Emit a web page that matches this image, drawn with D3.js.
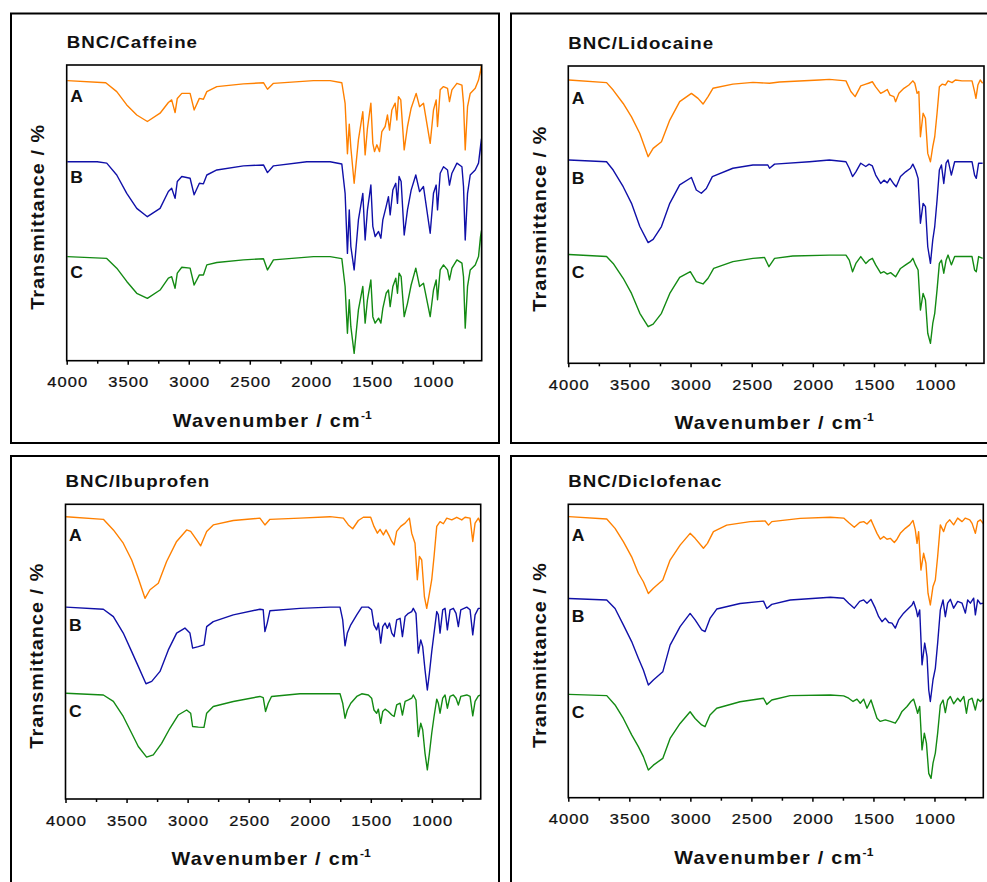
<!DOCTYPE html>
<html><head><meta charset="utf-8">
<script src="https://cdn.jsdelivr.net/npm/d3@7"></script>
<style>body{margin:0;background:#fff} svg{display:block}</style>
</head><body>
<svg id="c" width="987" height="882"></svg>
<script>
// ---- data (wavenumber cm-1, transmittance a.u. with offsets) ----
const caffeineA = [[3995,94.7],[3680,94.0],[3590,91.0],[3508,86.5],[3426,83.1],[3339,80.9],[3235,83.7],[3167,87.3],[3140,88.2],[3112,83.9],[3094,88.7],[3057,90.4],[2989,90.4],[2956,84.8],[2913,88.7],[2880,88.4],[2852,91.0],[2770,92.7],[2552,93.6],[2388,94.0],[2355,91.8],[2306,93.8],[1978,94.7],[1842,94.7],[1746,94.0],[1719,87.0],[1700,70.0],[1685,80.0],[1672,72.0],[1645,60.0],[1610,74.7],[1574,84.2],[1555,69.6],[1536,78.6],[1508,87.1],[1492,73.5],[1478,70.7],[1459,73.0],[1437,70.7],[1418,77.5],[1391,79.2],[1372,83.1],[1355,78.0],[1336,84.8],[1309,87.1],[1295,81.4],[1282,89.3],[1263,88.2],[1235,71.3],[1208,79.2],[1178,85.4],[1137,90.4],[1109,85.9],[1077,87.1],[1022,73.5],[995,84.8],[973,88.2],[962,79.2],[940,91.6],[913,92.7],[880,92.1],[864,87.6],[844,91.6],[803,93.8],[762,93.2],[749,87.1],[735,71.3],[716,85.9],[694,90.4],[653,92.1],[626,94.9],[610,98.0],[602,100],[600,90.0]];
const caffeineB = [[3995,67.3],[3750,67.3],[3672,66.8],[3590,62.8],[3508,56.6],[3426,51.5],[3339,48.7],[3235,51.5],[3167,57.2],[3140,58.3],[3112,54.9],[3094,60.6],[3057,62.3],[2989,61.7],[2956,56.1],[2913,60.0],[2880,59.8],[2852,62.8],[2770,64.5],[2552,65.9],[2388,66.2],[2355,63.6],[2306,65.9],[2033,67.3],[1842,67.3],[1746,66.5],[1719,56.6],[1700,36.3],[1685,51.0],[1672,38.6],[1645,30.7],[1610,47.6],[1574,56.6],[1555,40.8],[1536,51.0],[1508,59.4],[1492,45.4],[1473,42.0],[1445,43.7],[1426,41.4],[1410,47.6],[1383,52.1],[1364,55.5],[1350,49.3],[1328,57.7],[1304,60.0],[1290,53.2],[1277,62.3],[1260,60.6],[1235,42.5],[1208,51.0],[1178,57.7],[1140,62.8],[1109,57.2],[1077,58.9],[1022,43.1],[995,56.6],[973,59.4],[962,51.0],[940,63.4],[913,65.6],[880,64.5],[864,59.4],[844,63.4],[803,66.8],[762,65.6],[749,58.9],[735,40.8],[716,56.6],[694,62.8],[653,64.5],[626,66.8],[610,72.4],[602,75.0],[600,62.3]];
const caffeineC = [[3995,35.2],[3672,34.6],[3590,31.3],[3508,26.8],[3426,22.8],[3339,21.1],[3235,23.9],[3167,27.9],[3140,28.4],[3112,24.5],[3094,29.6],[3057,31.6],[2989,31.3],[2956,25.6],[2913,29.0],[2880,29.0],[2852,32.4],[2770,33.2],[2552,34.1],[2388,34.5],[2355,30.7],[2306,34.1],[1978,35.2],[1842,35.2],[1746,34.5],[1719,25.1],[1700,9.3],[1685,20.6],[1672,11.5],[1645,2.5],[1610,17.2],[1574,25.1],[1555,12.7],[1536,20.6],[1508,27.3],[1492,14.9],[1473,12.7],[1445,14.4],[1426,12.7],[1410,17.7],[1383,22.8],[1364,23.9],[1350,18.3],[1328,25.1],[1304,27.9],[1290,22.8],[1277,29.6],[1260,28.4],[1235,14.9],[1208,19.4],[1178,25.6],[1140,31.3],[1109,25.1],[1077,26.2],[1022,14.9],[995,23.9],[973,27.3],[962,20.6],[940,30.7],[913,32.4],[880,30.7],[864,27.3],[844,31.3],[803,34.1],[762,33.0],[749,28.4],[735,11.0],[716,25.1],[694,30.7],[653,32.4],[626,35.2],[610,41.9],[602,44.0],[600,29.6]];

const lidocaineA = [[3995,95.3],[3687,94.4],[3633,91.9],[3551,87.4],[3483,82.9],[3415,77.3],[3347,69.5],[3306,72.3],[3238,74.5],[3170,81.8],[3089,88.0],[2993,90.8],[2939,89.1],[2898,87.2],[2857,89.7],[2817,92.5],[2654,93.9],[2490,94.5],[2354,94.2],[2273,94.6],[1947,95.3],[1865,95.5],[1729,95.0],[1689,91.4],[1654,89.7],[1608,93.3],[1567,93.9],[1545,94.2],[1513,94.7],[1486,93.0],[1445,90.8],[1418,91.4],[1391,92.1],[1369,90.2],[1337,89.7],[1323,88.0],[1296,90.8],[1255,92.5],[1214,93.6],[1182,95.0],[1166,94.2],[1147,90.8],[1133,91.4],[1120,76.2],[1098,84.1],[1079,82.4],[1060,70.6],[1038,67.8],[1019,72.9],[1003,76.2],[984,84.1],[965,93.0],[943,93.9],[916,93.6],[894,95.0],[861,94.4],[834,95.3],[780,95.0],[698,95.0],[677,91.4],[666,89.1],[650,93.6],[631,95.3],[611,94.2]];
const lidocaineB = [[3995,68.4],[3687,67.8],[3633,65.0],[3551,59.4],[3483,53.8],[3415,46.0],[3347,40.6],[3306,41.7],[3238,46.0],[3170,53.8],[3089,60.0],[2993,62.5],[2953,58.3],[2912,57.2],[2871,58.8],[2822,62.8],[2654,65.6],[2490,66.7],[2368,66.7],[2354,65.6],[2313,67.0],[2028,67.8],[1865,68.4],[1729,67.8],[1702,65.6],[1675,62.8],[1648,64.4],[1608,67.3],[1567,66.2],[1540,67.0],[1513,66.4],[1486,63.3],[1445,60.5],[1418,61.6],[1391,60.7],[1369,62.2],[1337,60.3],[1318,59.4],[1283,62.8],[1241,64.4],[1201,65.6],[1182,67.0],[1160,65.0],[1139,62.2],[1120,47.1],[1098,53.8],[1079,52.7],[1060,39.2],[1038,33.6],[1019,41.5],[1003,46.0],[984,54.9],[965,65.0],[948,66.7],[929,60.5],[910,67.3],[894,68.4],[867,63.3],[840,67.8],[780,67.8],[698,67.8],[677,63.3],[663,62.2],[644,67.3],[611,67.3]];
const lidocaineC = [[3995,36.6],[3687,35.9],[3633,33.6],[3551,28.6],[3483,23.5],[3415,16.8],[3347,12.3],[3306,13.2],[3238,16.8],[3170,23.5],[3089,28.9],[3002,30.8],[2953,27.5],[2898,26.7],[2857,28.6],[2811,31.9],[2654,34.2],[2490,35.3],[2395,35.6],[2359,32.5],[2313,35.3],[2164,36.1],[1865,36.4],[1729,36.4],[1702,34.7],[1675,30.8],[1648,33.6],[1608,35.9],[1567,33.6],[1540,34.7],[1513,35.3],[1486,33.1],[1445,30.3],[1418,30.8],[1391,30.0],[1364,30.5],[1323,29.1],[1283,31.9],[1241,33.1],[1201,34.2],[1182,35.3],[1160,33.1],[1139,31.4],[1120,17.9],[1098,23.5],[1079,21.3],[1060,10.1],[1038,6.7],[1019,13.4],[1003,16.8],[984,24.7],[965,33.6],[948,34.7],[929,30.3],[910,34.7],[894,36.4],[867,33.1],[840,35.9],[780,35.9],[698,35.9],[677,31.4],[663,30.8],[644,35.9],[611,35.3]];

const ibuprofenA = [[3995,95.8],[3690,94.9],[3608,91.3],[3527,86.8],[3458,81.1],[3404,74.9],[3349,68.1],[3308,71.0],[3240,73.2],[3172,80.6],[3090,87.4],[3008,91.3],[2975,90.8],[2926,87.9],[2893,85.9],[2844,90.8],[2790,93.0],[2626,94.5],[2408,95.3],[2367,93.0],[2326,94.9],[2080,95.3],[1834,95.8],[1725,95.3],[1684,93.0],[1648,91.7],[1602,94.5],[1561,95.6],[1501,95.6],[1474,92.5],[1446,90.2],[1424,91.5],[1397,89.6],[1375,91.3],[1347,89.1],[1328,87.4],[1309,86.2],[1288,90.8],[1255,92.5],[1219,93.6],[1184,95.3],[1165,90.2],[1138,86.8],[1119,74.4],[1102,82.3],[1083,81.1],[1061,68.7],[1042,64.7],[1020,69.8],[1001,74.4],[982,82.3],[960,92.5],[933,94.1],[906,93.4],[878,95.3],[837,94.7],[796,95.6],[755,94.7],[728,95.6],[687,95.3],[665,87.4],[646,93.6],[619,95.3],[600,93.6]];
const ibuprofenB = [[3995,65.1],[3690,64.4],[3608,61.9],[3527,56.3],[3458,50.0],[3404,45.0],[3341,39.1],[3294,39.9],[3226,43.3],[3158,50.6],[3090,56.3],[3022,58.0],[2981,56.3],[2959,51.2],[2912,51.7],[2866,52.3],[2844,58.5],[2790,60.2],[2626,62.5],[2408,64.4],[2381,64.2],[2367,56.8],[2348,59.7],[2326,63.9],[2080,64.7],[1834,65.1],[1752,65.1],[1730,60.8],[1711,52.0],[1692,56.3],[1664,59.1],[1615,62.5],[1574,65.1],[1520,65.1],[1493,64.2],[1474,59.1],[1452,57.4],[1438,59.7],[1419,52.9],[1402,58.5],[1383,59.7],[1364,57.9],[1347,59.7],[1328,56.3],[1309,55.1],[1288,60.8],[1260,61.3],[1241,55.1],[1219,61.9],[1192,63.0],[1165,63.6],[1152,64.7],[1130,63.0],[1111,49.5],[1091,54.0],[1075,51.7],[1056,43.8],[1037,37.0],[1020,42.7],[1001,50.0],[982,56.3],[960,63.6],[947,62.5],[933,56.3],[911,64.2],[892,64.7],[873,57.4],[851,64.2],[824,64.7],[802,63.0],[783,58.5],[763,64.2],[714,65.1],[687,64.2],[665,55.7],[646,62.5],[619,64.7],[600,64.7]];
const ibuprofenC = [[3995,35.9],[3690,35.3],[3608,33.1],[3527,28.0],[3458,22.3],[3404,17.8],[3336,14.2],[3281,15.0],[3213,18.9],[3145,24.0],[3077,28.5],[3008,30.2],[2975,29.1],[2959,24.6],[2912,24.4],[2866,24.3],[2844,29.1],[2790,31.4],[2626,33.1],[2408,34.8],[2381,34.4],[2362,29.7],[2340,32.5],[2313,34.8],[2080,35.7],[1834,35.7],[1752,35.7],[1730,32.5],[1711,27.4],[1692,30.2],[1664,32.5],[1615,34.8],[1574,35.7],[1520,35.3],[1493,34.2],[1474,30.2],[1452,29.1],[1438,30.5],[1419,25.7],[1402,29.7],[1383,30.5],[1356,29.7],[1328,28.5],[1309,28.0],[1288,31.9],[1260,32.5],[1241,28.5],[1219,33.1],[1192,33.6],[1165,34.2],[1152,35.3],[1130,33.6],[1111,21.2],[1091,25.7],[1075,23.5],[1056,15.5],[1037,9.9],[1020,15.5],[1001,22.3],[982,28.0],[960,33.9],[947,32.5],[933,29.1],[911,34.2],[892,35.3],[873,30.8],[851,34.8],[824,35.3],[802,34.2],[783,31.9],[763,34.8],[714,35.3],[687,34.8],[665,28.2],[646,33.1],[619,35.0],[600,35.3]];

const diclofenacA = [[3995,95.8],[3685,95.0],[3617,91.8],[3549,87.3],[3481,82.1],[3426,76.5],[3385,73.6],[3344,69.6],[3303,71.4],[3226,74.2],[3166,81.0],[3084,86.1],[3002,90.1],[2961,88.4],[2893,85.0],[2860,86.7],[2811,90.7],[2702,92.9],[2510,94.1],[2387,94.3],[2360,92.9],[2333,94.1],[2100,95.2],[1853,95.6],[1744,95.3],[1703,93.8],[1657,92.2],[1613,93.8],[1580,94.1],[1553,93.3],[1520,94.7],[1498,92.6],[1471,90.1],[1444,88.1],[1416,89.0],[1389,88.1],[1362,88.4],[1329,87.0],[1307,88.1],[1280,90.1],[1239,91.8],[1203,93.0],[1176,94.5],[1157,91.3],[1143,86.7],[1130,90.7],[1111,77.6],[1089,83.3],[1070,79.9],[1053,69.7],[1034,65.7],[1012,72.0],[993,74.2],[974,82.2],[952,93.0],[925,90.7],[903,93.5],[875,94.7],[843,93.0],[810,95.3],[774,94.1],[747,95.3],[711,94.7],[692,93.5],[665,90.1],[646,94.1],[624,94.7],[597,93.3]];
const diclofenacB = [[3995,67.9],[3685,67.4],[3617,64.5],[3549,58.9],[3481,53.2],[3426,47.5],[3385,43.5],[3344,38.4],[3303,40.1],[3226,42.9],[3166,52.0],[3084,58.3],[3002,62.8],[2961,60.6],[2907,57.2],[2880,56.6],[2839,61.1],[2784,64.3],[2593,66.2],[2401,67.0],[2374,64.5],[2333,65.9],[2182,67.4],[1853,68.3],[1744,68.0],[1703,66.3],[1657,64.6],[1613,66.9],[1580,67.4],[1553,66.3],[1520,67.6],[1485,64.6],[1457,61.7],[1430,60.0],[1403,61.2],[1375,59.7],[1348,59.5],[1321,57.8],[1294,60.6],[1253,62.9],[1212,64.6],[1184,65.7],[1171,66.9],[1149,64.0],[1138,61.7],[1121,64.0],[1102,45.3],[1080,52.7],[1061,48.1],[1047,36.7],[1034,32.8],[1012,40.2],[993,44.1],[974,52.7],[952,64.0],[930,67.4],[911,61.7],[892,66.3],[870,67.6],[843,64.6],[810,66.9],[774,66.3],[747,62.9],[728,67.4],[706,66.3],[679,68.0],[665,62.3],[646,67.4],[624,66.1],[597,66.3]];
const diclofenacC = [[3995,35.2],[3685,34.8],[3617,31.6],[3549,27.0],[3481,21.4],[3426,17.4],[3385,14.0],[3344,9.4],[3303,11.1],[3226,13.4],[3166,20.2],[3084,25.3],[3002,29.3],[2961,27.0],[2907,24.8],[2880,24.2],[2839,28.2],[2784,30.5],[2593,32.7],[2401,33.9],[2374,31.8],[2333,33.3],[2182,34.8],[1853,35.0],[1744,34.7],[1703,33.9],[1667,32.8],[1635,33.6],[1608,32.2],[1580,33.6],[1553,30.5],[1520,33.3],[1498,30.5],[1471,27.1],[1444,26.0],[1403,26.5],[1362,26.0],[1321,25.4],[1294,27.1],[1266,29.4],[1225,31.1],[1193,32.8],[1171,33.6],[1149,30.5],[1138,28.8],[1121,31.1],[1102,16.3],[1083,22.0],[1066,18.6],[1047,8.3],[1028,6.6],[1012,11.8],[993,15.2],[974,22.0],[952,31.6],[930,33.3],[911,29.0],[892,33.3],[870,34.5],[843,32.0],[810,33.9],[788,32.8],[760,34.5],[738,28.8],[720,33.3],[692,33.9],[665,29.9],[646,33.6],[624,32.8],[597,33.9]];

const majorTicks = [4000, 3500, 3000, 2500, 2000, 1500, 1000];
const minorTicks = [3750, 3250, 2750, 2250, 1750, 1250, 750];
const seriesLabels = ["A", "B", "C"];
const panelTitles = ["BNC/Caffeine", "BNC/Lidocaine", "BNC/Ibuprofen", "BNC/Diclofenac"];
const panelSeries = [
  [caffeineA, caffeineB, caffeineC],
  [lidocaineA, lidocaineB, lidocaineC],
  [ibuprofenA, ibuprofenB, ibuprofenC],
  [diclofenacA, diclofenacB, diclofenacC]
];
const xLabel = "Wavenumber / cm";
const yLabel = "Transmittance / %";

// ---- layout & style ----
const seriesColors = ["#ff8000", "#1010a8", "#138a13"];
const FONT = "'Liberation Sans', Arial, Helvetica, sans-serif";
const SX = 1.1; // horizontal glyph stretch seen in the source image
const layout = [
  {frame:[11,13.5,488,429.5], plot:[66.7,65,481.7,360.7], labelDy:21},
  {frame:[511,13.5,600,429.5], plot:[568.3,66,984,363.3], labelDy:24},
  {frame:[11,456,488,600], plot:[65.5,504.3,480.7,799], labelDy:24},
  {frame:[511,456,600,600], plot:[568.3,504.3,983.3,797.7], labelDy:24}
];

const svg = d3.select("#c");

function stretchedText(parent, x, y, rot) {
  return parent.append("text")
    .attr("transform", `translate(${x},${y})${rot ? " rotate(-90)" : ""} scale(${SX},1)`)
    .attr("font-family", FONT).attr("fill", "#111");
}

layout.forEach((L, i) => {
  const [fx, fy, fw, fh] = L.frame;
  const [l, t, r, b] = L.plot;
  svg.append("rect").attr("x", fx).attr("y", fy).attr("width", fw).attr("height", fh)
    .attr("fill", "none").attr("stroke", "#000").attr("stroke-width", 2);

  const x = d3.scaleLinear().domain([4000, 600]).range([l, r]);
  const y = d3.scaleLinear().domain([0, 100]).range([b, t]);

  const clipId = "clip" + i;
  svg.append("clipPath").attr("id", clipId).append("rect")
    .attr("x", l).attr("y", t).attr("width", r - l).attr("height", b - t);

  const line = d3.line().x(d => x(d[0])).y(d => y(d[1]));
  const g = svg.append("g").attr("clip-path", `url(#${clipId})`);
  panelSeries[i].forEach((s, k) => {
    g.append("path").datum(s).attr("d", line).attr("fill", "none")
      .attr("stroke", seriesColors[k]).attr("stroke-width", 1.4)
      .attr("stroke-linejoin", "round");
  });

  // series labels
  panelSeries[i].forEach((s, k) => {
    stretchedText(svg, l + 3.5, y(s[0][1]) + L.labelDy)
      .attr("font-weight", "bold").attr("font-size", 16).text(seriesLabels[k]);
  });

  // axes
  const gx = svg.append("g").attr("transform", `translate(0,${b})`)
    .call(d3.axisBottom(x).tickValues(majorTicks).tickSize(4).tickFormat(d3.format("d")));
  gx.select(".domain").remove();
  gx.selectAll(".tick line").attr("stroke", "#000").attr("stroke-width", 1.5);
  gx.selectAll(".tick text")
    .attr("y", null).attr("dy", null)
    .attr("transform", `translate(0.5,26.5) scale(${SX},1)`)
    .attr("font-family", FONT).attr("font-size", 15).attr("letter-spacing", "1px")
    .attr("fill", "#111").attr("stroke", "#111").attr("stroke-width", 0.25);
  const gm = svg.append("g").attr("transform", `translate(0,${b})`)
    .call(d3.axisBottom(x).tickValues(minorTicks).tickSize(3).tickFormat(""));
  gm.select(".domain").remove();
  gm.selectAll(".tick line").attr("stroke", "#000").attr("stroke-width", 1.5);

  // plot frame
  svg.append("rect").attr("x", l).attr("y", t).attr("width", r - l).attr("height", b - t)
    .attr("fill", "none").attr("stroke", "#000").attr("stroke-width", 1.6);

  // title
  stretchedText(svg, l, t - 17)
    .attr("font-weight", "bold").attr("font-size", 17).attr("letter-spacing", "0.9px")
    .text(panelTitles[i]);

  // x label
  const xt = stretchedText(svg, (l + r) / 2 - 2, b + 66)
    .attr("text-anchor", "middle").attr("font-weight", "bold")
    .attr("font-size", 18).attr("letter-spacing", "1.2px");
  xt.append("tspan").text(xLabel);
  xt.append("tspan").attr("font-size", 11).attr("dy", -8).attr("letter-spacing", "0px").text("-1");

  // y label
  stretchedText(svg, l - 22.5, (t + b) / 2 + 4, true)
    .attr("text-anchor", "middle").attr("font-weight", "bold")
    .attr("font-size", 18).attr("letter-spacing", "0.95px").text(yLabel);
});
</script>
</body></html>
